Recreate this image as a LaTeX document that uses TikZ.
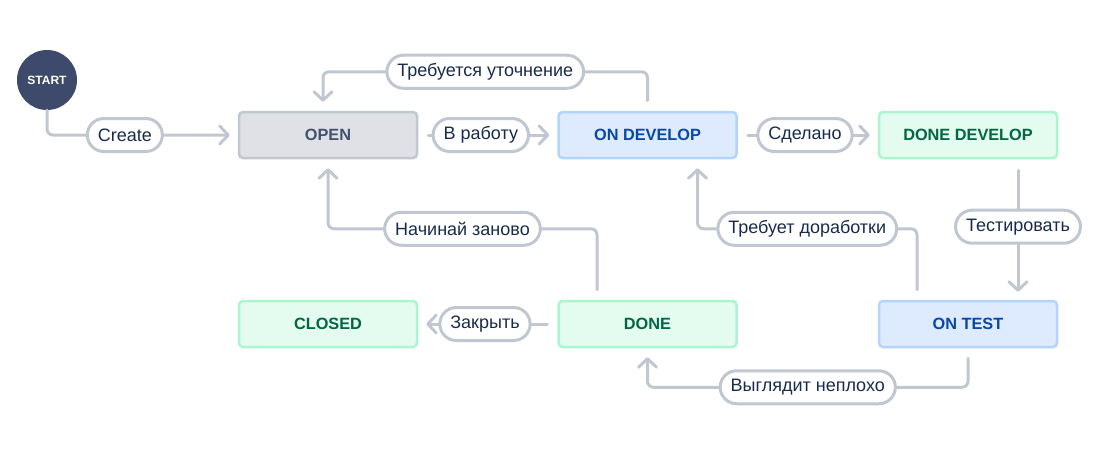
\documentclass[tikz,border=0pt]{standalone}
\usepackage{fontspec}
\setmainfont{Liberation Sans}
\usetikzlibrary{arrows.meta}
\definecolor{lineC}{HTML}{C1C7D0}
\definecolor{txtC}{HTML}{172B4D}
\definecolor{startC}{HTML}{3D4A6B}
\definecolor{greyF}{HTML}{DFE1E6}
\definecolor{greyB}{HTML}{C1C7D0}
\definecolor{greyT}{HTML}{42526E}
\definecolor{blueF}{HTML}{DEEBFF}
\definecolor{blueB}{HTML}{B3D4FF}
\definecolor{blueT}{HTML}{0747A6}
\definecolor{greenF}{HTML}{E3FCEF}
\definecolor{greenB}{HTML}{ABF5D1}
\definecolor{greenT}{HTML}{006644}
\begin{document}
\begin{tikzpicture}[x=1pt,y=-1pt,
  state/.style={rectangle, rounded corners=4pt, line width=2.5pt, minimum width=178pt, minimum height=46pt, inner sep=0pt, font=\fontsize{16.3}{19}\selectfont\bfseries},
  grey/.style={state, fill=greyF, draw=greyB, text=greyT},
  blue/.style={state, fill=blueF, draw=blueB, text=blueT},
  green/.style={state, fill=greenF, draw=greenB, text=greenT},
  lbl/.style={rectangle, rounded corners=16.5pt, draw=lineC, line width=3pt, fill=white, minimum height=33pt, inner xsep=10.5pt, inner ysep=0pt, text=txtC, font=\fontsize{18}{21}\selectfont},
  conn/.style={draw=lineC, line width=3pt, rounded corners=6pt, line cap=round, -{Straight Barb[length=8.5pt,width=18pt,line cap=round,line join=round]}}
]
\useasboundingbox (0,0) rectangle (1113,452);

\node[circle, fill=startC, minimum size=60pt, inner sep=0pt, text=white, font=\fontsize{12}{14}\selectfont\bfseries] (START) at (47,80) {START};

\node[grey]  (OPEN)   at (328,135)   {OPEN};
\node[blue]  (ONDEV)  at (647.5,135) {ON DEVELOP};
\node[green] (DDEV)   at (968,135)   {DONE DEVELOP};
\node[green] (CLOSED) at (328,324)   {CLOSED};
\node[green] (DONE)   at (647.5,324) {DONE};
\node[blue]  (ONTEST) at (968,324)   {ON TEST};

% Create
\draw[conn, shorten >=8pt] (START.south) |- node[lbl, pos=0.704] {Create} (OPEN.west);
% В работу
\draw[conn, shorten <=10pt, shorten >=8pt] (OPEN.east) -- node[lbl, pos=0.45] {В работу} (ONDEV.west);
% Требуется уточнение
\draw[conn, shorten <=10pt, shorten >=9pt] (ONDEV.north) -- ++(0,-39) -| node[lbl, pos=0.25] {Требуется уточнение} ([xshift=-5pt]OPEN.north);
% Сделано
\draw[conn, shorten <=10pt, shorten >=8pt] (ONDEV.east) -- node[lbl, pos=0.48] {Сделано} (DDEV.west);
% Тестировать
\draw[conn, shorten <=11pt, shorten >=8pt] ([xshift=50pt]DDEV.south) -- node[lbl, pos=0.48] {Тестировать} ([xshift=50pt]ONTEST.north);
% Требует доработки
\draw[conn, shorten <=10pt, shorten >=9pt] ([xshift=-51pt]ONTEST.north) -- ++(0,-71) -| node[lbl, pos=0.25] {Требует доработки} ([xshift=50pt]ONDEV.south);
% Начинай заново
\draw[conn, shorten <=10pt, shorten >=9pt] ([xshift=-50.5pt]DONE.north) -- ++(0,-71) -| node[lbl, pos=0.25] {Начинай заново} (OPEN.south);
% Закрыть
\draw[conn, shorten <=10pt, shorten >=8pt] (DONE.west) -- node[lbl, pos=0.52] {Закрыть} (CLOSED.east);
% Выглядит неплохо
\draw[conn, shorten <=10pt, shorten >=9pt] (ONTEST.south) -- ++(0,39) -| node[lbl, pos=0.25] {Выглядит неплохо} (DONE.south);
\end{tikzpicture}
\end{document}
